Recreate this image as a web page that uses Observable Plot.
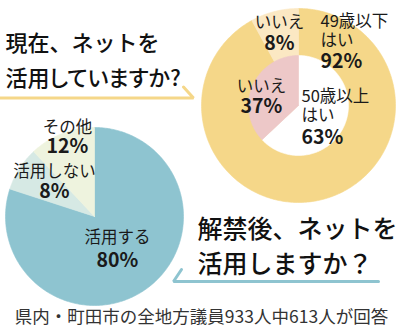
<!DOCTYPE html>
<html>
<head>
<meta charset="utf-8">
<script src="https://cdn.jsdelivr.net/npm/d3@7"></script>
<script src="https://cdn.jsdelivr.net/npm/@observablehq/plot@0.6"></script>
<style>
  html, body { margin: 0; padding: 0; background: #fff; }
</style>
</head>
<body>
<div id="chart"></div>
<script>
// ---- data ----
const answers = ["はい", "いいえ"];
const under49Values = [92, 8];      // 49歳以下
const over50Values = [63, 37];      // 50歳以上
const afterCategories = ["活用する", "活用しない", "その他"];
const afterValues = [80, 8, 12];
const title1 = ["現在、ネットを", "活用していますか?"];
const title2 = ["解禁後、ネットを", "活用しますか？"];
const caption = "県内・町田市の全地方議員933人中613人が回答";

// ---- layout / styles ----
const W = 400, H = 330;
const font = "'Noto Sans CJK JP', 'Noto Sans', sans-serif";
const topPie = {cx: 298, cy: 105, rOuter: 97, rInner: 50};
const botPie = {cx: 94, cy: 216, r: 89};
const ringColors = ["#f5d789", "#fbe8c3"];
const innerColors = ["#ffffff", "#edc8c8"];
const afterColors = ["#8ec4d0", "#d6e9e4", "#eef3de"];

function wedges(values, colors, cx, cy, r, group) {
  const arcs = d3.pie().sort(null).value(d => d)(values);
  const pts = [];
  arcs.forEach((a, i) => {
    const key = group + i;
    const span = a.endAngle - a.startAngle;
    const n = Math.max(2, Math.ceil(span / (Math.PI / 180)));
    pts.push({x: cx, y: cy, key, color: colors[i]});
    for (let k = 0; k <= n; k++) {
      const t = a.startAngle + span * k / n;
      pts.push({x: cx + r * Math.sin(t), y: cy - r * Math.cos(t), key, color: colors[i]});
    }
    pts.push({x: cx, y: cy, key, color: colors[i]});
  });
  return pts;
}

const slices = [
  ...wedges(under49Values, ringColors, topPie.cx, topPie.cy, topPie.rOuter, "r"),
  ...wedges(over50Values, innerColors, topPie.cx, topPie.cy, topPie.rInner, "i"),
  ...wedges(afterValues, afterColors, botPie.cx, botPie.cy, botPie.r, "a")
];

const underline1 = [{x: 0, y: 97.5}, {x: 193, y: 97.5}, {x: 183, y: 86.5}];
const underline2 = [{x: 181, y: 269}, {x: 173, y: 281}, {x: 378, y: 281}];

// label groups: text lines + a bold percentage line (positions are layout only)
const labelSize = 16.5, labelLH = 20 / 16.5, pctSize = 19.5;
const groups = [
  {lines: [answers[1]], pct: under49Values[1], x: 279, b: 27, dy: 23, a: "middle"},
  {lines: ["49歳以下", answers[0]], pct: under49Values[0], x: 320, b: 26, dy: 22, a: "start"},
  {lines: [answers[1]], pct: over50Values[1], x: 261, b: 91, dy: 22, a: "middle"},
  {lines: ["50歳以上", answers[0]], pct: over50Values[0], x: 301, b: 101, dy: 23, a: "start"},
  {lines: [afterCategories[2]], pct: afterValues[2], x: 67, b: 132, dy: 21, a: "middle"},
  {lines: [afterCategories[1]], pct: afterValues[1], x: 54, b: 176, dy: 22, a: "middle"},
  {lines: [afterCategories[0]], pct: afterValues[0], x: 117, b: 242, dy: 25, a: "middle"}
].map(g => ({...g, t: [...g.lines, g.pct + "%"].join("\n"), y: g.b - 0.71 * labelLH * labelSize}));

// palt: which title lines use proportional kana spacing
const titles = [
  {t: title1.join("\n"), x: 5, b: 50, fs: 22, lh: 36, palt: [false, true]},
  {t: title2.join("\n"), x: 197, b: 237, fs: 25, lh: 36, palt: [false, false]}
].map(d => ({...d, y: d.b - 0.71 * d.lh}));

const chart = Plot.plot({
  width: W, height: H,
  margin: 0,
  x: {domain: [0, W], range: [0, W], axis: null},
  y: {domain: [0, H], range: [0, H], axis: null},
  color: {type: "identity"},
  style: {fontFamily: font, background: "#fff", overflow: "visible"},
  marks: [
    Plot.line(slices, {x: "x", y: "y", z: "key", fill: "color", stroke: "color", strokeWidth: 0.6, curve: "linear"}),
    Plot.line(underline1, {x: "x", y: "y", stroke: "#f5d789", strokeWidth: 3, strokeLinejoin: "miter"}),
    Plot.line(underline2, {x: "x", y: "y", stroke: "#8ec4d0", strokeWidth: 3, strokeLinejoin: "miter"}),
    ...groups.map(g => Plot.text([g], {
      x: "x", y: "y", text: "t", textAnchor: g.a, lineAnchor: "top",
      fontSize: labelSize, lineHeight: labelLH, fill: "#1a1a1a"
    })),
    ...titles.map(d => Plot.text([d], {
      x: "x", y: "y", text: "t", textAnchor: "start", lineAnchor: "top",
      fontSize: d.fs, lineHeight: d.lh / d.fs, fontWeight: 500, fill: "#111"
    })),
    Plot.text([caption], {
      x: () => 201, y: () => 317, text: d => d, textAnchor: "middle", lineAnchor: "middle",
      fontSize: 17.5, fill: "#333"
    })
  ]
});

// style the percentage line of each label group, and tighten some title kana
const groupByText = new Map(groups.map(g => [g.t.replace(/\n/g, ""), g]));
const titleByText = new Map(titles.map(d => [d.t.replace(/\n/g, ""), d]));
chart.querySelectorAll("text").forEach(t => {
  const key = t.textContent;
  const spans = t.querySelectorAll("tspan");
  const g = groupByText.get(key);
  if (g) {
    const last = spans[spans.length - 1];
    if (last) {
      last.setAttribute("font-size", pctSize);
      last.setAttribute("font-weight", "bold");
      last.setAttribute("dy", g.dy + "px");
    }
    return;
  }
  const d = titleByText.get(key);
  if (d) spans.forEach((s, i) => { if (d.palt[i]) s.style.fontFeatureSettings = '"palt"'; });
});
document.getElementById("chart").appendChild(chart);
</script>
</body>
</html>
